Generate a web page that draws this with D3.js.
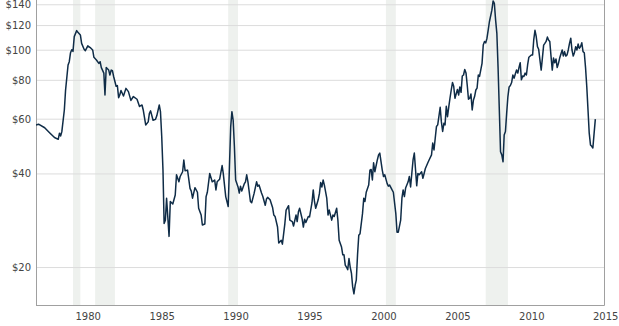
<!DOCTYPE html>
<html>
<head>
<meta charset="utf-8">
<script src="https://cdn.jsdelivr.net/npm/d3@7/dist/d3.min.js"></script>
<style>
  html, body { margin: 0; padding: 0; background: #fff; }
  svg { display: block; }
  .tick text { font-family: "DejaVu Sans", Verdana, sans-serif; font-size: 10px; fill: #444; }
</style>
</head>
<body>
<svg id="chart" width="619" height="326"></svg>
<script>
// Monthly crude oil price, inflation-adjusted dollars (sampled months)
const months = [
  "1977-07","1977-09","1978-02","1978-06","1978-10","1979-01","1979-02","1979-03","1979-04","1979-06",
  "1979-07","1979-09","1979-10","1979-11","1979-12","1980-01","1980-02","1980-04","1980-05","1980-07",
  "1980-08","1980-10","1980-11","1981-01","1981-03","1981-05","1981-06","1981-08","1981-10","1981-11",
  "1981-12","1982-02","1982-03","1982-04","1982-06","1982-07","1982-08","1982-09","1982-10","1982-12",
  "1983-01","1983-02","1983-03","1983-04","1983-06","1983-08","1983-10","1983-12","1984-02","1984-05",
  "1984-07","1984-09","1984-10","1984-12","1985-02","1985-03","1985-04","1985-06","1985-08","1985-09",
  "1985-11","1985-12","1986-01","1986-02","1986-03","1986-04","1986-05","1986-07","1986-08","1986-10",
  "1986-12","1987-01","1987-03","1987-04","1987-06","1987-07","1987-08","1987-10","1987-12","1988-01",
  "1988-02","1988-04","1988-06","1988-07","1988-09","1988-10","1988-12","1989-01","1989-02","1989-04",
  "1989-06","1989-08","1989-09","1989-10","1989-12","1990-02","1990-03","1990-05","1990-07","1990-08",
  "1990-09","1990-10","1990-11","1990-12","1991-01","1991-03","1991-04","1991-05","1991-06","1991-08",
  "1991-09","1991-10","1991-11","1992-01","1992-02","1992-04","1992-06","1992-07","1992-08","1992-10",
  "1992-11","1993-01","1993-02","1993-03","1993-05","1993-07","1993-08","1993-09","1993-11","1993-12",
  "1994-02","1994-03","1994-05","1994-06","1994-08","1994-09","1994-11","1994-12","1995-02","1995-03",
  "1995-04","1995-05","1995-07","1995-08","1995-09","1995-10","1995-12","1996-01","1996-03","1996-04",
  "1996-05","1996-06","1996-08","1996-09","1996-10","1996-11","1996-12","1997-01","1997-03","1997-04",
  "1997-05","1997-07","1997-08","1997-09","1997-11","1997-12","1998-01","1998-03","1998-04","1998-05",
  "1998-06","1998-07","1998-08","1998-09","1998-10","1998-11","1998-12","1999-01","1999-02","1999-03",
  "1999-04","1999-05","1999-06","1999-08","1999-09","1999-10","1999-11","2000-01","2000-02","2000-03",
  "2000-04","2000-05","2000-06","2000-08","2000-09","2000-10","2000-12","2001-01","2001-02","2001-04",
  "2001-05","2001-06","2001-08","2001-09","2001-11","2001-12","2002-01","2002-03","2002-04","2002-05",
  "2002-06","2002-07","2002-09","2002-10","2002-11","2002-12","2003-01","2003-02","2003-03","2003-04",
  "2003-05","2003-06","2003-08","2003-09","2003-10","2003-11","2004-01","2004-02","2004-04","2004-05",
  "2004-06","2004-07","2004-08","2004-09","2004-11","2004-12","2005-01","2005-02","2005-03","2005-04",
  "2005-05","2005-06","2005-07","2005-08","2005-09","2005-10","2005-11","2006-01","2006-02","2006-03",
  "2006-04","2006-05","2006-06","2006-07","2006-08","2006-09","2006-10","2006-11","2006-12","2007-01",
  "2007-02","2007-03","2007-04","2007-05","2007-06","2007-07","2007-09","2007-10","2007-11","2007-12",
  "2008-01","2008-02","2008-03","2008-05","2008-06","2008-07","2008-08","2008-09","2008-10","2008-11",
  "2008-12","2009-01","2009-02","2009-03","2009-04","2009-05","2009-06","2009-07","2009-08","2009-09",
  "2009-10","2009-11","2009-12","2010-01","2010-02","2010-03","2010-04","2010-05","2010-06","2010-07",
  "2010-08","2010-09","2010-10","2010-11","2011-01","2011-02","2011-03","2011-04","2011-05","2011-06",
  "2011-07","2011-08","2011-09","2011-10","2011-11","2011-12","2012-01","2012-02","2012-03","2012-04",
  "2012-05","2012-06","2012-07","2012-08","2012-09","2012-10","2012-11","2012-12","2013-02","2013-03",
  "2013-04","2013-05","2013-06","2013-07","2013-08","2013-09","2013-10","2013-11","2013-12","2014-01",
  "2014-02","2014-03","2014-04","2014-05","2014-06","2014-07","2014-08","2014-09","2014-10","2014-11",
  "2014-12","2015-01","2015-02","2015-03","2015-04","2015-05"
];
const prices = [
  57.3, 57.6, 56.1, 54.1, 52.2, 51.5, 53.9, 52.8, 54.6, 64.0,
  74.0, 89.3, 91.5, 97.8, 100.0, 98.8, 110.2, 115.2, 113.8, 111.6,
  104.8, 100.3, 99.3, 102.9, 101.6, 99.8, 94.5, 92.7, 90.4, 91.5,
  87.6, 84.1, 71.5, 87.6, 86.0, 82.9, 86.0, 85.6, 82.0, 76.3,
  76.7, 70.1, 71.5, 73.9, 71.0, 75.1, 73.3, 68.7, 70.7, 69.3,
  65.7, 66.4, 64.0, 57.3, 58.6, 62.3, 63.6, 59.3, 59.7, 61.3,
  66.4, 63.2, 52.6, 41.0, 27.6, 28.3, 33.3, 25.1, 32.5, 31.9,
  34.1, 39.6, 37.6, 39.1, 40.5, 44.2, 40.8, 41.0, 35.8, 35.1,
  33.3, 36.0, 34.8, 30.9, 29.4, 27.3, 27.5, 33.7, 34.8, 40.0,
  37.6, 38.1, 35.4, 37.6, 38.3, 42.4, 40.0, 33.7, 31.3, 42.1,
  56.6, 63.2, 59.3, 48.9, 38.1, 36.2, 34.6, 36.4, 35.1, 37.0,
  37.6, 39.6, 37.6, 32.5, 32.2, 34.5, 37.6, 36.4, 36.7, 34.6,
  33.8, 31.6, 33.1, 33.5, 32.9, 31.1, 29.4, 29.1, 26.9, 23.9,
  24.4, 23.7, 27.6, 30.5, 31.5, 28.3, 28.0, 27.1, 29.4, 28.0,
  30.1, 30.9, 28.6, 26.9, 28.5, 27.8, 29.1, 29.0, 32.2, 35.4,
  32.5, 30.9, 32.9, 34.5, 37.4, 36.2, 38.1, 36.7, 33.3, 29.4,
  30.5, 28.3, 29.4, 29.1, 30.9, 28.3, 24.4, 23.2, 21.9, 21.9,
  20.3, 20.0, 19.6, 21.3, 20.0, 19.1, 17.3, 16.4, 17.5, 18.2,
  22.0, 25.3, 25.6, 29.7, 33.3, 32.5, 34.8, 36.7, 41.0, 41.2,
  38.1, 43.3, 40.5, 44.2, 45.9, 46.5, 41.0, 39.1, 39.6, 37.1,
  36.4, 36.7, 35.4, 34.8, 29.7, 25.9, 25.9, 28.3, 33.3, 35.4,
  33.7, 35.9, 37.6, 39.1, 36.2, 40.0, 44.2, 46.5, 41.5, 36.5,
  40.0, 39.6, 40.5, 38.6, 40.0, 41.5, 43.3, 44.2, 45.9, 50.1,
  47.6, 51.8, 56.6, 57.3, 65.3, 58.6, 54.6, 58.0, 57.3, 65.8,
  60.9, 65.5, 69.8, 74.2, 78.4, 76.3, 69.8, 74.5, 71.5, 75.9,
  72.9, 82.3, 82.9, 86.4, 84.2, 76.7, 69.3, 69.8, 72.0, 64.0,
  68.9, 70.7, 74.2, 75.2, 82.9, 82.1, 90.4, 103.5, 106.3, 105.2,
  108.9, 115.8, 123.0, 134.0, 143.5, 141.0, 124.7, 112.9, 87.6, 64.0,
  47.0, 45.9, 43.6, 53.2, 54.6, 62.3, 70.7, 75.9, 76.7, 78.4,
  82.9, 81.0, 83.5, 86.0, 84.1, 87.6, 90.8, 80.0, 82.3, 82.0,
  84.1, 82.9, 89.3, 94.6, 96.2, 96.2, 107.5, 115.4, 110.3, 102.3,
  100.3, 92.7, 86.0, 94.0, 103.5, 104.8, 106.3, 109.8, 107.5, 106.3,
  95.4, 86.0, 94.0, 90.8, 93.3, 87.6, 90.4, 94.0, 99.8, 95.5,
  98.6, 95.4, 96.2, 99.8, 104.8, 108.9, 99.8, 95.4, 97.8, 102.3,
  99.8, 104.3, 101.0, 102.3, 105.3, 98.6, 97.8, 87.6, 76.3, 64.0,
  53.9, 49.4, 48.9, 48.3, 53.9, 59.8
];

// US recessions (start month, end month)
const recessionStarts = ["1980-01", "1981-07", "1990-07", "2001-03", "2007-12"];
const recessionEnds   = ["1980-07", "1982-11", "1991-03", "2001-11", "2009-06"];

const yTicks = [20, 40, 60, 80, 100, 120, 140];
const xTickYears = [1980, 1985, 1990, 1995, 2000, 2005, 2010, 2015];

const parseMonth = d3.timeParse("%Y-%m");
const data = months.map((m, i) => ({ date: parseMonth(m), value: prices[i] }));
const recessions = recessionStarts.map((s, i) => ({ start: parseMonth(s), end: parseMonth(recessionEnds[i]) }));

const plot = { left: 36, right: 604, top: 0, bottom: 305 };

const svg = d3.select("#chart");

const x = d3.scaleTime()
  .domain([new Date(1977, 6, 1), new Date(2015, 11, 1)])
  .range([plot.left, plot.right]);

const y = d3.scaleLog()
  .domain([15.1, 144.5])
  .range([plot.bottom, plot.top]);

svg.append("defs").append("clipPath").attr("id", "plot-clip")
  .append("rect")
  .attr("x", plot.left).attr("y", plot.top)
  .attr("width", plot.right - plot.left).attr("height", plot.bottom - plot.top);

// Recession shading
svg.append("g")
  .selectAll("rect")
  .data(recessions)
  .join("rect")
  .attr("x", d => x(d.start))
  .attr("width", d => x(d.end) - x(d.start))
  .attr("y", plot.top)
  .attr("height", plot.bottom - plot.top)
  .attr("fill", "#eef1ee");

// Horizontal gridlines with dollar labels
const yAxis = svg.append("g")
  .attr("transform", `translate(${plot.left},0)`)
  .call(d3.axisLeft(y)
    .tickValues(yTicks)
    .tickFormat(d => "$" + d)
    .tickSize(-(plot.right - plot.left))
    .tickPadding(5));
yAxis.select(".domain").remove();
yAxis.selectAll(".tick line").attr("stroke", "#dcdcdc").attr("stroke-width", 1);
yAxis.selectAll(".tick text").attr("dy", "0.34em");

// Year labels along the bottom, starting at each year's tick
const xAxis = svg.append("g")
  .attr("transform", `translate(0,${plot.bottom})`)
  .call(d3.axisBottom(x)
    .tickValues(xTickYears.map(yr => new Date(yr, 0, 1)))
    .tickFormat(d3.timeFormat("%Y"))
    .tickSize(0)
    .tickPadding(8));
xAxis.select(".domain").remove();
xAxis.selectAll(".tick text").attr("text-anchor", "start").attr("x", 2).attr("dy", "0.71em");

// Frame: left axis, bottom axis, right edge
const frame = svg.append("g").attr("stroke", "#a0a0a0").attr("stroke-width", 1).attr("fill", "none");
frame.append("line").attr("x1", plot.left + 0.5).attr("x2", plot.left + 0.5).attr("y1", plot.top).attr("y2", plot.bottom + 0.5);
frame.append("line").attr("x1", plot.left).attr("x2", plot.right + 0.5).attr("y1", plot.bottom + 0.5).attr("y2", plot.bottom + 0.5);
frame.append("line").attr("x1", plot.right + 0.5).attr("x2", plot.right + 0.5).attr("y1", plot.top).attr("y2", plot.bottom + 0.5);

// Price line
const line = d3.line()
  .x(d => x(d.date))
  .y(d => y(d.value));

svg.append("path")
  .datum(data)
  .attr("clip-path", "url(#plot-clip)")
  .attr("fill", "none")
  .attr("stroke", "#0f2c47")
  .attr("stroke-width", 1.5)
  .attr("stroke-linejoin", "round")
  .attr("d", line);
</script>
</body>
</html>
